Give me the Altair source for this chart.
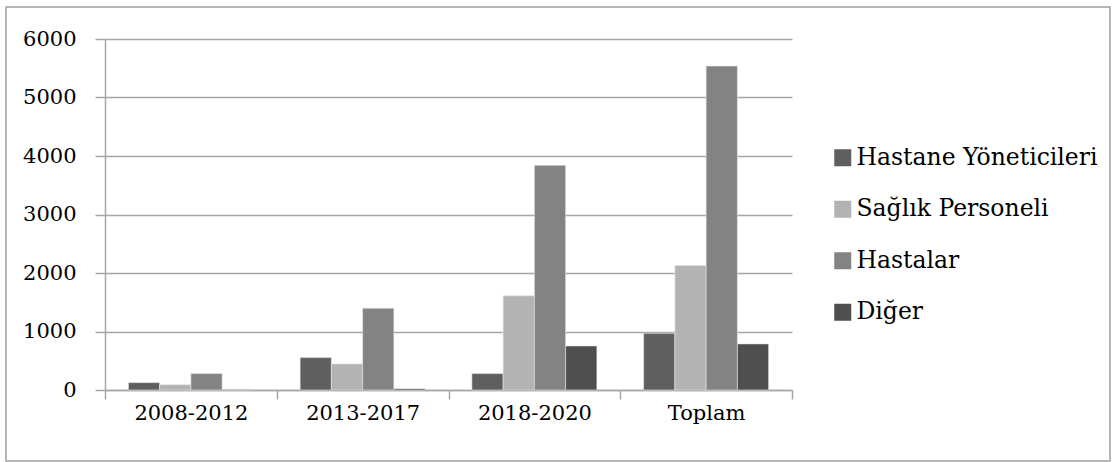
import altair as alt
import pandas as pd

categories = ["2008-2012", "2013-2017", "2018-2020", "Toplam"]
series = ["Hastane Yöneticileri", "Sağlık Personeli", "Hastalar", "Diğer"]
hastane_yoneticileri = [126, 554, 280, 970]
saglik_personeli = [91, 445, 1610, 2129]
hastalar = [280, 1398, 3841, 5537]
diger = [10, 23, 753, 788]
colors = ["#5f5f5f", "#b3b3b3", "#838383", "#4f4f4f"]
y_ticks = [0, 1000, 2000, 3000, 4000, 5000, 6000]

rows = []
for s, vals in zip(series, [hastane_yoneticileri, saglik_personeli, hastalar, diger]):
    for c, v in zip(categories, vals):
        rows.append({"Dönem": c, "Grup": s, "Değer": v})
df = pd.DataFrame(rows)

FONT = "DejaVu Serif"
GRID = "#a6a6a6"
FS = 21
LFS = 23.5

bars = alt.Chart(df).mark_bar(stroke="#e8e8e8", strokeWidth=0.6).encode(
    x=alt.X("Dönem:N", sort=categories, title=None,
            scale=alt.Scale(paddingInner=0, paddingOuter=0),
            axis=alt.Axis(labelAngle=0, tickBand="extent", tickSize=9, tickColor=GRID,
                          tickWidth=1.5, domainColor=GRID, domainWidth=1.5,
                          labelFont=FONT, labelFontSize=FS, labelColor="#000",
                          labelPadding=3, grid=False)),
    xOffset=alt.XOffset("Grup:N", sort=series,
                        scale=alt.Scale(domain=series, paddingInner=0, paddingOuter=0.748)),
    y=alt.Y("Değer:Q", title=None,
            scale=alt.Scale(domain=[0, 6000], nice=False),
            axis=alt.Axis(values=y_ticks, tickSize=10, tickColor=GRID, tickWidth=1.5,
                          domainColor=GRID, domainWidth=1.5, gridColor=GRID,
                          gridWidth=1.5, labelFont=FONT, labelFontSize=FS,
                          labelColor="#000", labelPadding=19, format="d")),
    color=alt.Color("Grup:N", sort=series,
                    scale=alt.Scale(domain=series, range=colors),
                    legend=alt.Legend(title=None, orient="none", legendX=726, legendY=107,
                                      symbolType="square", symbolSize=289,
                                      symbolStrokeWidth=0, labelFont=FONT,
                                      labelFontSize=LFS, labelColor="#000", labelLimit=0,
                                      rowPadding=26.5, labelOffset=2)),
)

frame = alt.Chart(pd.DataFrame({"k": [0]})).mark_rect(
    fill=None, stroke="#a0a0a0", strokeWidth=1.5
).encode(
    x=alt.value(-99), x2=alt.value(1005), y=alt.value(-32), y2=alt.value(422)
)

chart = alt.layer(frame, bars).properties(
    width=687, height=351,
    padding={"left": 105, "top": 39, "right": 325, "bottom": 72},
    autosize=alt.AutoSizeParams(type="none"),
    background="white",
).configure_view(stroke=None)

chart.save("out.html", embed_options={"renderer": "svg", "actions": False})
